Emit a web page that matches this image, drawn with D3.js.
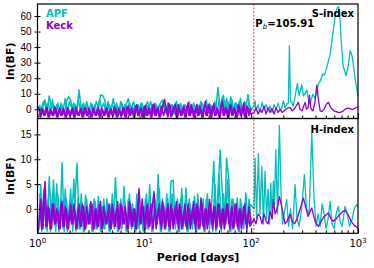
<!DOCTYPE html>
<html lang="en">
<head>
  <meta charset="UTF-8" />
  <title>ln(BF) periodograms – S-index and H-index</title>
  <script src="https://d3js.org/d3.v7.min.js"></script>
  <style>
    body { margin: 0; background: #fff; }
    svg { display: block; font-family: "DejaVu Sans", sans-serif; }
  </style>
</head>
<body>
  <svg width="374" height="268"></svg>

  <script>
    // periods (days) sampled through the dense part of both periodograms
    const noisePeriods = [
      1.023, 1.072, 1.122, 1.175, 1.230, 1.288, 1.349, 1.413, 1.479, 1.549,
      1.622, 1.698, 1.778, 1.862, 1.950, 2.042, 2.138, 2.239, 2.344, 2.455,
      2.570, 2.692, 2.818, 2.951, 3.090, 3.236, 3.388, 3.548, 3.715, 3.890,
      4.074, 4.266, 4.467, 4.677, 4.898, 5.129, 5.370, 5.623, 5.888, 6.166,
      6.457, 6.761, 7.079, 7.413, 7.762, 8.128, 8.511, 8.913, 9.333, 9.772,
      10.23, 10.72, 11.22, 11.75, 12.30, 12.88, 13.49, 14.13, 14.79, 15.49,
      16.22, 16.98, 17.78, 18.62, 19.50, 20.42, 21.38, 22.39, 23.44, 24.55,
      25.70, 26.92, 28.18, 29.51, 30.90, 32.36, 33.88, 35.48, 37.15, 38.90,
      40.74, 42.66, 44.67, 46.77, 48.98, 51.29, 53.70, 56.23, 58.88, 61.66,
      64.57, 67.61, 70.79, 74.13, 77.62, 81.28, 85.11, 89.13, 93.33, 97.72
    ];
    // in-between periods for the second half of the dense sampling
    const noisePeriods2 = [
      1.047, 1.096, 1.148, 1.202, 1.259, 1.318, 1.380, 1.445, 1.514, 1.585,
      1.660, 1.738, 1.820, 1.905, 1.995, 2.089, 2.188, 2.291, 2.399, 2.512,
      2.630, 2.754, 2.884, 3.020, 3.162, 3.311, 3.467, 3.631, 3.802, 3.981,
      4.169, 4.365, 4.571, 4.786, 5.012, 5.248, 5.495, 5.754, 6.026, 6.310,
      6.607, 6.918, 7.244, 7.586, 7.943, 8.318, 8.710, 9.120, 9.550, 10.00,
      10.47, 10.96, 11.48, 12.02, 12.59, 13.18, 13.80, 14.45, 15.14, 15.85,
      16.60, 17.38, 18.20, 19.05, 19.95, 20.89, 21.88, 22.91, 23.99, 25.12,
      26.30, 27.54, 28.84, 30.20, 31.62, 33.11, 34.67, 36.31, 38.02, 39.81,
      41.69, 43.65, 45.71, 47.86, 50.12, 52.48, 54.95, 57.54, 60.26, 63.10,
      66.07, 69.18, 72.44, 75.86, 79.43, 83.18, 87.10, 91.20, 95.50, 100.0
    ];

    // S-index, dense part
    const sApfNoise = [
      2, -2, 4, 6, -1, 8.6, 0, 3, -2, 4, -1, 2, -3, 5, 8.1, 6, -1, 3, 0, 12.4,
      -2, 4, -1, 2, -3, 3, -1, 5, 1, 9.2, 9, 6, -2, 3, 0, 7, -2, 2, -1, 4,
      -3, 3, 7, -1, 2, -2, 3, 0, 4, -2, 2, 4.9, -1, 2, -3, 3, 0, 4, 6, -1,
      2, -2, 3, 0, 4, -2, 2, -1, 3, -2, 4, 0, 2, -3, 3, -1, 5, -2, 2, 0,
      4, -2, 3, 1, 14.1, -1, 8, 0, 7, -1, 8, -2, 4, 0, 5, -2, 3, 0, 9.6, -1
    ];
    const sApfNoise2 = [
      3, -3, 5, 1, 4, -2, 6, -1, 3, -3, 4, 0, 7, -2, 5, 1, 4, -3, 6, 0,
      3, -2, 5, -1, 4, 0, 3, -3, 6, 1, 4, -2, 5, 0, 3, -1, 4, -3, 5, 0,
      3, -2, 4, 1, 5, -2, 3, 0, 4, -3, 3, 0, 5, -2, 4, -1, 3, 0, 5, -2,
      4, -1, 3, -3, 5, 0, 4, -2, 3, 1, 5, -2, 4, 0, 3, -3, 4, 1, 6, -2,
      3, 0, 5, -2, 6, 1, 9, -1, 5, 0, 6, -2, 4, 1, 7, -2, 5, 0, 4, -1
    ];
    const sKeckNoise = [
      1.5, -5, 0, -4, 1, -5, -1, -4, 0.5, -5, 1, -4, -0.5, -5, 0, -4, 1, -5, -1, -4,
      0.5, -5, 1, -4, -1, -5, 0, -4, 1.5, -5, -0.5, -4, 1, -5, 0, -4, 0.5, -5, -1, -4,
      1, -5, 2, -4, 0, -5, 3, -4, 1, -5, 2.5, -4, 0, -5, 3.5, -4, 1, -5, 1, 6.4,
      -3, 4, -5, 1, 3, -5, 0, -4, 2, -5, 4, -4, 1, -5, 3, -4, 0, -5, 5, -4,
      2, -5, 3.5, -4, 0, -5, 5.5, -4, 1, -5, 3, -4, 0, -5, 2, -4, 4, -5, 1, -3
    ];
    const sKeckNoise2 = [
      -5, 0.5, -4, 1, -5, 0, -4, 1.5, -5, -0.5, -4, 0.5, -5, 1, -4, 0, -5, 1.5, -4, 0,
      -5, 1, -4, 0.5, -5, 1, -4, -0.5, -5, 1, -4, 0.5, -5, 0, -4, 1.5, -5, 0.5, -4, 1,
      -5, 2, -4, 1, -5, 2.5, -4, 0, -5, 2, -4, 1, -5, 3, -4, 0.5, -5, 2, -4, 1,
      -5, 2.5, -4, 1, -5, 3, -4, 0.5, -5, 2, -4, 3, -5, 1, -4, 2.5, -5, 1, -4, 3,
      -5, 2, -4, 1, -5, 3, -4, 1, -5, 2.5, -4, 1, -5, 3, -4, 1, -5, 2, -4, 1
    ];
    // H-index, dense part
    const hApfNoise = [
      -4.5, 4.8, -4, 2, -4.5, 6.5, -3, 5.8, -4.5, 3, -4, 9.3, -4.5, 2, -3, 4, -4.5, 1, 9.2, -4,
      3, -4.5, 2.8, -3, 1, -4.5, 2, -4, 2.5, -4.5, 0.5, -4, 2, -4.5, 1, -3, 6.3, -4.5, 1, -4,
      4.5, -4.5, 2, -3, 1, -4.5, 3, -4, 0.5, -4.5, 2, -4, 4.9, -4.5, 1.5, -3, 6.9, -4.5, 2, -4,
      3, -4.5, 5.6, 5.8, -4, 2, -4.5, 4.1, -3, 4.2, -4.5, 1, -4, 2.5, -4.5, 0, -3, 2, -4.5, 3,
      -4, 1, 9.6, -4.5, 4, 11.8, 3, -4, 10.2, 6.2, -4.5, 2, -3, 2.2, -4.5, 1, -4, 3.2, -3, 1
    ];
    const hApfNoise2 = [
      3, -4.5, 4, -4, 2, -4.5, 3, -3, 5, -4.5, 2, -4, 4, -4.5, 1, -3, 6, -4.5, 2, -4,
      1, -4.5, 2, -3, 0.5, -4.5, 1.5, -4, 0, -4.5, 2, -3, 1, -4.5, 3, -4, 1, -4.5, 2, -3,
      1, -4.5, 3, -4, 0, -4.5, 2, -3, 1, -4.5, 3, -4, 1, -4.5, 2, -3, 4, -4.5, 1, -4,
      2, -4.5, 3, -3, 1, -4.5, 2, -4, 0.5, -4.5, 2, -3, 1, -4.5, 3, -4, 0, -4.5, 2, -3,
      1, -4.5, 5, -4, 7, -4.5, 3, -3, 6, -4.5, 2, -4, 1, -4.5, 2, -3, 1, -4.5, 2, -3
    ];
    const hKeckNoise = [
      -4, 2, -4, 5.5, -3.5, 0, -4, 1, -3, -0.5, -4, 1.5, -3.5, 0, -4, 1, -3, -0.5, -4, 1,
      -3.5, 0.5, -4, -1, -3, 1, -4, 0, -3.5, 1.5, -4, -0.5, -3, 1, -4, 0, -3.5, 1.5, -4, 0.5,
      -3, -1, -4, 1, -3.5, 0, -4, 4.1, -3, 0.5, -4, 1, -3.5, -0.5, 3.5, -4, 0, -3, 1.5, -4,
      0, -3.5, 1, -4, 0.5, -3, 1, -4, -0.5, -3.5, 1, -4, 0, -3, 1, -4, 2.2, -3.5, 0, -4,
      1.9, -3, 0.5, -4, 1, -3.5, 0, -4, 1, -3, -0.5, -4, 1, -3.5, 0, -4, 0.5, -3, -1, -3.5
    ];
    const hKeckNoise2 = [
      1, -4, 3, -3.5, 0.5, -4, 1, -3, 0, -4, 1, -3.5, 0.5, -4, -0.5, -3, 1, -4, 0, -3.5,
      1, -4, 0.5, -3, 1.5, -4, 0, -3.5, 1, -4, 0.5, -3, -0.5, -4, 1, -3.5, 0, -4, 1, -3,
      0.5, -4, 1.5, -3.5, 0, -4, 1, -3, 2, -4, 0.5, -3.5, 1, -4, 0, -3, 1, -4, 0.5, -3.5,
      1, -4, 0, -3, 1.5, -4, 0.5, -3.5, 1, -4, 0, -3, 1.5, -4, 0.5, -3.5, 1, -4, 0, -3,
      1, -4, 0.5, -3.5, 1, -4, 0, -3, 1, -4, 0.5, -3.5, 1, -4, 0, -3, 1, -4, 0.5, -3
    ];

    // long-period part, own sampling for each series
    const sApfTailP = [106.4, 108.8, 111, 116, 121, 126.5, 132, 138, 144, 150, 157, 164, 171, 179, 187, 195, 200, 207.6, 216.8,
      222.8, 228, 232.9, 239, 246.7, 257.6, 270.8, 280.7, 297.6, 308, 319.6, 331.7, 344.7, 356, 377.6, 396.5, 425.9, 442,
      468, 486, 510, 548, 585, 617, 637, 655, 673, 695, 725, 775, 810, 845, 883, 921, 962, 1000];
    const sApfTail = [2, 5.5, -1, 3, -2, 4.5, 0, 3, -1, 2, -2, 3, 0, 4, -1, 2, 5.5, 1, 3.4,
      4, 40.9, 5, 5, 2, 8, 16.7, 9, 15.8, 8.7, 10, 12.4, 6, 3.4, 9.8, 7, 16.3, 18,
      22.7, 22, 27, 35, 50, 62, 65, 66, 62, 45, 28, 21.6, 28, 37.7, 34, 24, 15, 9];

    const sKeckTailP = [106.4, 111, 116, 121, 126.5, 132, 138, 144, 150, 157, 164, 171, 179, 187, 195, 203, 212, 222, 231,
      242, 252, 263, 276.6, 287, 300, 309.5, 319.6, 330, 341, 350.8, 363.9, 380, 396.5, 411.4, 423, 442, 461, 482, 503,
      528, 548, 572, 598, 625, 652, 681, 711, 743, 775, 810, 845, 883, 921, 962, 1000];
    const sKeckTail = [-2, 1, -3, 0, -2, 2, -3, 1, -2, 0.5, -3, 1, -2, 0, -2, -1, 0, 1, 1.3,
      -1, 0, 2, 4.5, 0, -1, 2, 4.5, 0, 1, 9, 0, -1, 5, 15.5, 8, -1, -1.5, 0, 3,
      4.5, 2, 0, -1, -1.5, -2, -2, -1.5, -0.5, 0.5, 0.8, 0.5, 0, 0.5, 1.2, 1.3];

    const hApfTailP = [106.4, 108.8, 112.3, 116.8, 121, 125.7, 130.1, 134.9, 139.3, 144, 148.6, 152.6, 157, 161.4, 165.6,
      169.9, 176.6, 183.6, 190.5, 196.8, 203, 215.4, 223.9, 233.8, 244.2, 257.6, 269, 280.7, 296.5, 314.8, 330, 348.6,
      369.4, 388, 405, 423, 442, 461, 482, 503, 525, 548, 572, 598, 625, 652, 681, 711, 757, 791, 834, 883, 921, 975, 1000];
    const hApfTail = [0, 10.2, -2, 11.2, -1, 8.6, -3, 7.6, -2, 4, -3, 5.2, -2, 5.6, 1,
      11.9, -1, 16.8, 3, -3, -1, 1.9, -3.5, 0, -4, 4.9, -2, -3.5, 0, 6.9, 0, -1,
      15.3, 2, -3.5, -1, -3.5, 1, -1, -4, -2, 1.5, -3, -4, -1, 0.5, -2.5, -3.5, 0.5, -1, -3.5, -2, 0, 0.9, 0.3];

    const hKeckTailP = [106.4, 111, 116, 121, 126.5, 132, 138, 144, 150, 157, 161.4, 167.4, 174.8, 183.6, 190.5, 199,
      207.6, 216.8, 231, 242, 254.9, 269, 287, 308.2, 327, 341, 356, 369.4, 380, 396.5, 425.9, 451.3, 482, 528, 560,
      585, 625, 665, 711, 757, 810, 863, 921, 1000];
    const hKeckTail = [-2, -3, -1, -1.5, -3, -1, -2.5, -3, -0.5, -2, 1.9, -1, 0, 2.5, 1, -1,
      -3, -2.5, -1.1, -2.5, -3, -2, 0, 2.2, 0, -1.5, -0.5, 0.2, -1, -2.5, -3.5, -2.5, -1.5, -0.8, -2,
      -2.5, -2, -1.3, -0.6, -0.3, -1.2, -2.5, -3.3, -3.8];

    const sTicks = [0, 10, 20, 30, 40, 50, 60];
    const hTicks = [0, 5, 10, 15];
    const xMajor = [1, 10, 100, 1000];
    const xMinor = [2, 3, 4, 5, 6, 7, 8, 9, 20, 30, 40, 50, 60, 70, 80, 90, 200, 300, 400, 500, 600, 700, 800, 900];
    const pb = 105.91;

    const apfColor = "#00bfbf", keckColor = "#9400d3";

    const svg = d3.select("svg");
    const left = 37.5, right = 358;
    const panels = [
      { name: "S-index", top: 4, bottom: 118.5, domain: [-5.9, 67.7], ticks: sTicks,
        series: [[sApfNoise, sApfNoise2, sApfTailP, sApfTail, apfColor],
                 [sKeckNoise, sKeckNoise2, sKeckTailP, sKeckTail, keckColor]] },
      { name: "H-index", top: 118.5, bottom: 233.3, domain: [-4.9, 18.2], ticks: hTicks,
        series: [[hApfNoise, hApfNoise2, hApfTailP, hApfTail, apfColor],
                 [hKeckNoise, hKeckNoise2, hKeckTailP, hKeckTail, keckColor]] }
    ];

    const x = d3.scaleLog().domain([1, 1000]).range([left, right]);

    panels.forEach((p, k) => {
      const y = d3.scaleLinear().domain(p.domain).range([p.bottom, p.top]);
      const line = d3.line().x(d => x(d[0])).y(d => y(d[1]));

      svg.append("clipPath").attr("id", "clip" + k)
        .append("rect")
        .attr("x", left).attr("y", p.top)
        .attr("width", right - left).attr("height", p.bottom - p.top);

      const g = svg.append("g").attr("clip-path", `url(#clip${k})`);
      p.series.forEach(([noise, noise2, tailP, tail, color]) => {
        const dense = noisePeriods.map((d, i) => [d, noise[i]]);
        const dense2 = noisePeriods2.map((d, i) => [d, noise2[i]]);
        const last = dense[dense.length - 1];
        const sparse = [last].concat(tailP.map((d, i) => [d, tail[i]]));
        [dense, dense2].forEach(pts => {
          g.append("path")
            .datum(pts)
            .attr("fill", "none")
            .attr("stroke", color)
            .attr("stroke-width", 1.5)
            .attr("stroke-linejoin", "round")
            .attr("d", line);
        });
        g.append("path")
          .datum(sparse)
          .attr("fill", "none")
          .attr("stroke", color)
          .attr("stroke-width", 1.3)
          .attr("stroke-linejoin", "round")
          .attr("d", line);
      });

      // y axis, ticks crossing the spine
      const yAxis = svg.append("g")
        .attr("transform", `translate(${left},0)`)
        .call(d3.axisLeft(y).tickValues(p.ticks).tickSize(3).tickPadding(3));
      yAxis.select(".domain").remove();
      yAxis.selectAll(".tick line").attr("x1", 3).attr("x2", -3).attr("stroke-width", 1);
      yAxis.selectAll(".tick text").attr("font-size", 10).attr("fill", "#000");

      // x ticks point inwards
      const xAxis = svg.append("g")
        .attr("transform", `translate(0,${p.bottom})`)
        .call(d3.axisBottom(x).tickValues(xMajor).tickSize(-5).tickFormat(""));
      xAxis.select(".domain").remove();
      const xMin = svg.append("g")
        .attr("transform", `translate(0,${p.bottom})`)
        .call(d3.axisBottom(x).tickValues(xMinor).tickSize(-3).tickFormat(""));
      xMin.select(".domain").remove();

      svg.append("rect")
        .attr("x", left).attr("y", p.top)
        .attr("width", right - left).attr("height", p.bottom - p.top)
        .attr("fill", "none").attr("stroke", "#000").attr("stroke-width", 1.2);

      svg.append("text")
        .attr("x", 354).attr("y", p.top + (k === 0 ? 13 : 14))
        .attr("text-anchor", "end")
        .attr("font-size", 10).attr("font-weight", "bold")
        .text(p.name);

      svg.append("text")
        .attr("transform", `translate(14,${(p.top + p.bottom) / 2}) rotate(-90)`)
        .attr("text-anchor", "middle")
        .attr("font-size", 11).attr("font-weight", "bold")
        .text("ln(BF)");
    });

    // tick labels 10^n under the lower panel
    xMajor.forEach((v, i) => {
      const t = svg.append("text")
        .attr("x", x(v)).attr("y", 247)
        .attr("text-anchor", "middle")
        .attr("font-size", 10);
      t.append("tspan").text("10");
      t.append("tspan").attr("font-size", 7).attr("dy", -4).text(i);
    });

    svg.append("text")
      .attr("x", 198).attr("y", 261)
      .attr("text-anchor", "middle")
      .attr("font-size", 11).attr("font-weight", "bold")
      .text("Period [days]");

    // P_b marker over both panels
    svg.append("line")
      .attr("x1", x(pb)).attr("x2", x(pb))
      .attr("y1", 4).attr("y2", 233.3)
      .attr("stroke", "red").attr("stroke-width", 0.8)
      .attr("stroke-dasharray", "2,1.5");

    const pl = svg.append("text")
      .attr("x", x(pb) + 1.5).attr("y", 26.5)
      .attr("font-size", 10).attr("font-weight", "bold");
    pl.append("tspan").text("P");
    pl.append("tspan").attr("font-size", 7).attr("font-style", "italic").attr("font-weight", "normal").attr("dy", 2).text("b");
    pl.append("tspan").attr("dy", -2).text("=" + pb.toFixed(2));

    // legend
    [["APF", apfColor], ["Keck", keckColor]].forEach(([name, color], i) => {
      svg.append("text")
        .attr("x", 46).attr("y", 17 + i * 12)
        .attr("font-size", 10).attr("font-weight", "bold")
        .attr("fill", color)
        .text(name);
    });
  </script>
</body>
</html>
